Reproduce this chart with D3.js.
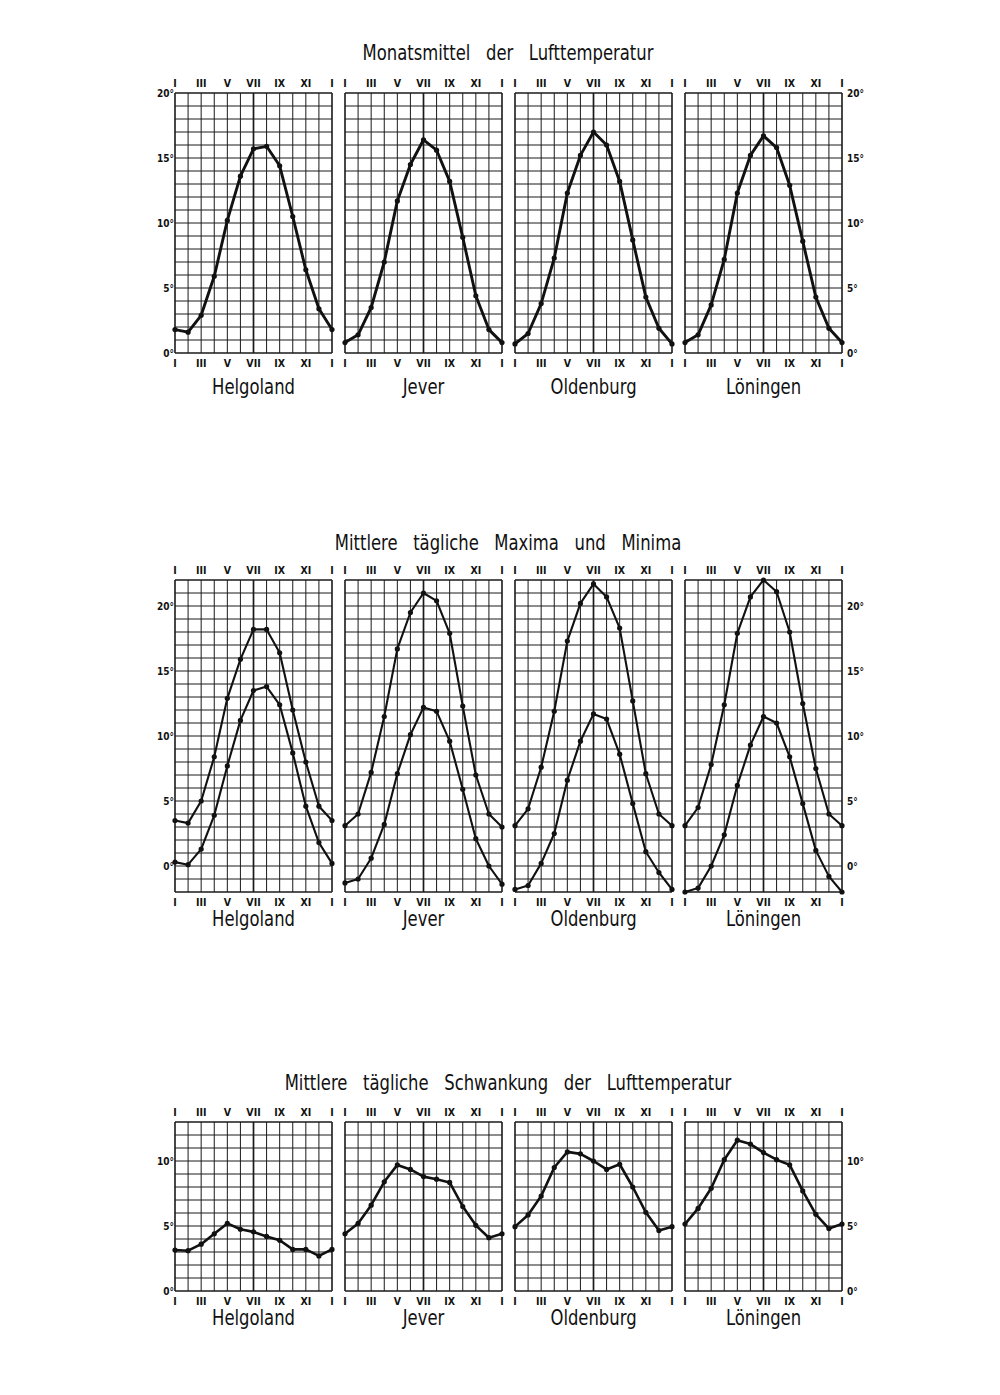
<!DOCTYPE html>
<html>
  <head>
    <meta charset="utf-8">
    <script src="https://d3js.org/d3.v7.min.js"></script>
    <style>
      html, body {
        margin: 0;
        padding: 0;
        background: #fff;
      }
      svg text {
        fill: #111;
      }
      .title, .station {
        font-family: "DejaVu Sans Condensed", "Liberation Sans Narrow", sans-serif;
      }
      .month, .deg {
        font-family: "DejaVu Sans Condensed", "Liberation Sans Narrow", sans-serif;
        font-weight: bold;
      }
    </style>
  </head>
  <body>
    <div id="chart"></div>
    <script>
      // stations and month ticks
      const stations = ["Helgoland", "Jever", "Oldenburg", "Löningen"];
      const months = [1, 2, 3, 4, 5, 6, 7, 8, 9, 10, 11, 12, 13];
      const monthTicks = [1, 3, 5, 7, 9, 11, 13];
      const monthLabels = ["I", "III", "V", "VII", "IX", "XI", "I"];

      // Monatsmittel der Lufttemperatur (°C), Jan..Dec, Jan
      const meanHelgoland = [1.8, 1.6, 2.9, 5.9, 10.2, 13.6, 15.7, 15.9, 14.4, 10.5, 6.4, 3.4, 1.8];
      const meanJever     = [0.8, 1.4, 3.5, 7.0, 11.7, 14.5, 16.4, 15.6, 13.2, 8.9, 4.4, 1.8, 0.8];
      const meanOldenburg = [0.7, 1.5, 3.8, 7.3, 12.3, 15.2, 17.0, 16.0, 13.2, 8.7, 4.3, 1.9, 0.7];
      const meanLoeningen = [0.8, 1.4, 3.7, 7.2, 12.3, 15.2, 16.7, 15.8, 12.9, 8.6, 4.3, 1.9, 0.8];

      // Mittlere tägliche Maxima
      const maxHelgoland = [3.5, 3.3, 5.0, 8.4, 12.9, 15.9, 18.2, 18.2, 16.4, 12.0, 8.0, 4.6, 3.5];
      const maxJever     = [3.1, 4.0, 7.2, 11.5, 16.7, 19.5, 21.0, 20.4, 17.9, 12.3, 7.0, 4.0, 3.0];
      const maxOldenburg = [3.1, 4.4, 7.6, 11.9, 17.3, 20.2, 21.7, 20.7, 18.3, 12.7, 7.1, 4.0, 3.1];
      const maxLoeningen = [3.1, 4.5, 7.8, 12.4, 17.9, 20.7, 22.0, 21.1, 18.0, 12.5, 7.5, 4.0, 3.1];

      // Mittlere tägliche Minima
      const minHelgoland = [0.3, 0.1, 1.3, 3.9, 7.7, 11.2, 13.5, 13.8, 12.4, 8.7, 4.6, 1.8, 0.2];
      const minJever     = [-1.3, -1.0, 0.6, 3.2, 7.1, 10.1, 12.2, 11.9, 9.6, 5.9, 2.1, 0.0, -1.4];
      const minOldenburg = [-1.8, -1.5, 0.2, 2.5, 6.6, 9.6, 11.7, 11.3, 8.6, 4.8, 1.1, -0.5, -1.8];
      const minLoeningen = [-2.0, -1.7, 0.0, 2.4, 6.2, 9.3, 11.5, 11.0, 8.4, 4.8, 1.2, -0.8, -2.0];

      // Mittlere tägliche Schwankung
      const ampHelgoland = [3.15, 3.1, 3.6, 4.4, 5.2, 4.75, 4.55, 4.2, 3.9, 3.2, 3.2, 2.7, 3.2];
      const ampJever     = [4.4, 5.2, 6.6, 8.4, 9.7, 9.35, 8.8, 8.6, 8.35, 6.5, 5.05, 4.1, 4.4];
      const ampOldenburg = [4.95, 5.85, 7.3, 9.5, 10.7, 10.55, 10.0, 9.35, 9.75, 8.0, 6.05, 4.65, 4.95];
      const ampLoeningen = [5.15, 6.35, 7.9, 10.1, 11.6, 11.3, 10.65, 10.1, 9.7, 7.7, 5.9, 4.8, 5.15];

      const width = 1000, height = 1395;

      const svg = d3.select("#chart").append("svg")
        .attr("width", width)
        .attr("height", height);

      // panel placement: 4 panels of 157px, 13px gap
      const panelW = 157;
      const px = d3.scaleBand().domain(stations).range([175, 842]).paddingInner(13 / 170);
      const x = d3.scaleLinear().domain([1, 13]).range([0, panelW]);

      const blocks = [
        {
          title: "Monatsmittel   der   Lufttemperatur",
          titleY: 53, top: 93, domain: [0, 20], degTicks: [0, 5, 10, 15, 20],
          nameOff: 33, lineW: 2.9,
          series: [[meanHelgoland], [meanJever], [meanOldenburg], [meanLoeningen]]
        },
        {
          title: "Mittlere   tägliche   Maxima   und   Minima",
          titleY: 543, top: 580, domain: [-2, 22], degTicks: [0, 5, 10, 15, 20],
          nameOff: 26, lineW: 2.1,
          series: [[maxHelgoland, minHelgoland], [maxJever, minJever],
                   [maxOldenburg, minOldenburg], [maxLoeningen, minLoeningen]]
        },
        {
          title: "Mittlere   tägliche   Schwankung   der   Lufttemperatur",
          titleY: 1083, top: 1122, domain: [0, 13], degTicks: [0, 5, 10],
          nameOff: 26, lineW: 2.6,
          series: [[ampHelgoland], [ampJever], [ampOldenburg], [ampLoeningen]]
        }
      ];

      const unit = 13; // px per degree
      const squeeze = 0.83; // narrow lettering

      blocks.forEach(b => {
        const h = (b.domain[1] - b.domain[0]) * unit;
        const y = d3.scaleLinear().domain(b.domain).range([b.top + h, b.top]);
        const degLines = d3.range(b.domain[0], b.domain[1] + 1);

        svg.append("text")
          .attr("class", "title")
          .attr("transform", `translate(508,${b.titleY + 7}) scale(${squeeze},1)`)
          .attr("text-anchor", "middle")
          .attr("font-size", 22)
          .style("white-space", "pre")
          .text(b.title);

        stations.forEach((s, i) => {
          const g = svg.append("g").attr("transform", `translate(${px(s)},0)`);

          // horizontal grid lines (1 degree)
          g.selectAll(".h").data(degLines).enter().append("line")
            .attr("x1", 0).attr("x2", panelW)
            .attr("y1", d => y(d)).attr("y2", d => y(d))
            .attr("stroke", "#1a1a1a")
            .attr("stroke-width", d => (d === b.domain[0] || d === b.domain[1]) ? 1.6 : 1);

          // vertical grid lines (months)
          g.selectAll(".v").data(months).enter().append("line")
            .attr("x1", d => x(d)).attr("x2", d => x(d))
            .attr("y1", b.top).attr("y2", b.top + h)
            .attr("stroke", "#1a1a1a")
            .attr("stroke-width", d => (d === 1 || d === 13) ? 1.6 : (d === 7 ? 1.7 : 1));

          // month labels top and bottom
          [b.top - 10, b.top + h + 10].forEach(ty => {
            g.selectAll(null).data(monthTicks).enter().append("text")
              .attr("class", "month")
              .attr("x", d => x(d))
              .attr("y", ty + 4)
              .attr("text-anchor", "middle")
              .attr("font-size", 10.5)
              .text((d, k) => monthLabels[k]);
          });

          // station name
          g.append("text")
            .attr("class", "station")
            .attr("transform", `translate(${panelW / 2},${b.top + h + b.nameOff + 8}) scale(${squeeze},1)`)
            .attr("text-anchor", "middle")
            .attr("font-size", 22)
            .text(s);

          // curves
          const line = d3.line().x((d, k) => x(months[k])).y(d => y(d));
          b.series[i].forEach(vals => {
            g.append("path")
              .datum(vals)
              .attr("d", line)
              .attr("fill", "none")
              .attr("stroke", "#111")
              .attr("stroke-width", b.lineW)
              .attr("stroke-linejoin", "round");
            g.selectAll(null).data(vals).enter().append("circle")
              .attr("cx", (d, k) => x(months[k]))
              .attr("cy", d => y(d))
              .attr("r", 2.6)
              .attr("fill", "#111");
          });
        });

        // degree labels, left of first and right of last panel
        const left = px(stations[0]), right = px(stations[3]) + panelW;
        svg.selectAll(null).data(b.degTicks).enter().append("text")
          .attr("class", "deg")
          .attr("x", left - 1)
          .attr("y", d => y(d) + 4)
          .attr("text-anchor", "end")
          .attr("font-size", 10)
          .text(d => d + "°");
        svg.selectAll(null).data(b.degTicks).enter().append("text")
          .attr("class", "deg")
          .attr("x", right + 5)
          .attr("y", d => y(d) + 4)
          .attr("text-anchor", "start")
          .attr("font-size", 10)
          .text(d => d + "°");
      });
    </script>
  </body>
</html>
